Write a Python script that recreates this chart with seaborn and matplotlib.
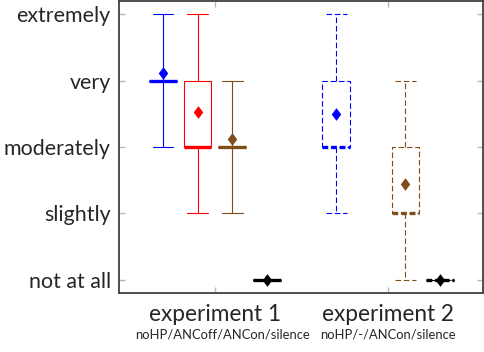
##############################################################################
#### Perceived noise rating: boxplots per condition and experiment
##############################################################################
import pandas as pd
import numpy as np
import seaborn as sns
import matplotlib
matplotlib.use("Agg")
import matplotlib.pyplot as plt

###########
# Data (ratings 1 = not at all ... 5 = extremely)
rating_labels = ["not at all", "slightly", "moderately", "very", "extremely"]

# slots on the x axis, "gap" and exp2 ANCoff stay empty
slot_order = ["e1_noHP", "e1_ANCoff", "e1_ANCon", "e1_silence", "gap",
              "e2_noHP", "e2_ANCoff", "e2_ANCon", "e2_silence"]

# ratings given as (value, count) pairs
e1_noHP = [(3, 2), (4, 18), (5, 5)]
e1_ANCoff = [(2, 2), (3, 11), (4, 9), (5, 3)]
e1_ANCon = [(2, 2), (3, 18), (4, 5)]
e1_silence = [(1, 25)]
e2_noHP = [(2, 1), (3, 10), (4, 7), (5, 2)]
e2_ANCon = [(1, 2), (2, 9), (3, 7), (4, 2)]
e2_silence = [(1, 20)]

exp1_conditions = {"e1_noHP": e1_noHP, "e1_ANCoff": e1_ANCoff,
                   "e1_ANCon": e1_ANCon, "e1_silence": e1_silence}
exp2_conditions = {"e2_noHP": e2_noHP, "e2_ANCon": e2_ANCon,
                   "e2_silence": e2_silence}

group_labels = ["experiment 1", "experiment 2"]
group_notes = ["noHP/ANCoff/ANCon/silence", "noHP/-/ANCon/silence"]

palette = {"e1_noHP": "#0000ff", "e1_ANCoff": "#ff0000",
           "e1_ANCon": "#7f4c1c", "e1_silence": "#000000",
           "e2_noHP": "#0000ff", "e2_ANCon": "#7f4c1c",
           "e2_silence": "#000000"}


def to_long(conditions, experiment):
    rows = []
    for slot, counts in conditions.items():
        for value, n in counts:
            rows += [{"slot": slot, "rating": value, "experiment": experiment}] * n
    return pd.DataFrame(rows)


df1 = to_long(exp1_conditions, 1)
df2 = to_long(exp2_conditions, 2)
df_all = pd.concat([df1, df2], ignore_index=True)

##############################################################################
# Plot
##############################################################################
sns.set_theme(style="white")
plt.rcParams["font.family"] = ["Lato", "DejaVu Sans"]

fig = plt.figure(figsize=(4.84, 3.52), dpi=100)
ax = fig.add_axes([119 / 484, 59 / 352, 364 / 484, 292 / 352])

dash = (0, (5, 2.5))
common = dict(x="slot", y="rating", hue="slot", order=slot_order,
              palette=palette, fill=False, width=0.8, whis=(0, 100),
              linewidth=0.8, capwidths=0.6, showfliers=False, legend=False,
              ax=ax)

# experiment 1: solid lines
sns.boxplot(data=df1, medianprops=dict(linewidth=2.4), **common)

# experiment 2: dashed lines
sns.boxplot(data=df2,
            boxprops=dict(linestyle=dash),
            whiskerprops=dict(linestyle=dash),
            capprops=dict(linestyle=dash),
            medianprops=dict(linewidth=2.4, linestyle=(0, (1.7, 0.9))),
            **common)

# means as diamonds
sns.pointplot(data=df_all, x="slot", y="rating", hue="slot", order=slot_order,
              palette=palette, estimator="mean", errorbar=None,
              markers="d", linestyles="none", markersize=4.5, legend=False,
              ax=ax)
for line in ax.lines:
    if line.get_marker() == "d":
        line.set_zorder(6)

# axes and ticks
ax.set_xlim(-1.27, 9.24)
ax.set_ylim(0.8, 5.2)
ax.set_yticks(range(1, 6))
ax.set_yticklabels(rating_labels, fontsize=15.4)
ax.set_xticks([1.5, 6.5])
ax.set_xticklabels(group_labels, fontsize=16.3)
ax.set_xlabel("")
ax.set_ylabel("")
ax.tick_params(axis="y", direction="in", left=True, right=True, length=4,
               width=1, color="#b8b8b8", pad=6)
ax.tick_params(axis="x", direction="in", bottom=True, top=True, length=4,
               width=1, color="#b8b8b8", pad=8)
for spine in ax.spines.values():
    spine.set_color("#404040")
    spine.set_linewidth(1.3)

# small notes under the group labels
for xpos, note in zip([1.72, 6.5], group_notes):
    ax.text(xpos, -0.142, note, transform=ax.get_xaxis_transform(),
            ha="center", va="center", fontsize=9.4)

fig.savefig("out.png", dpi=100)
